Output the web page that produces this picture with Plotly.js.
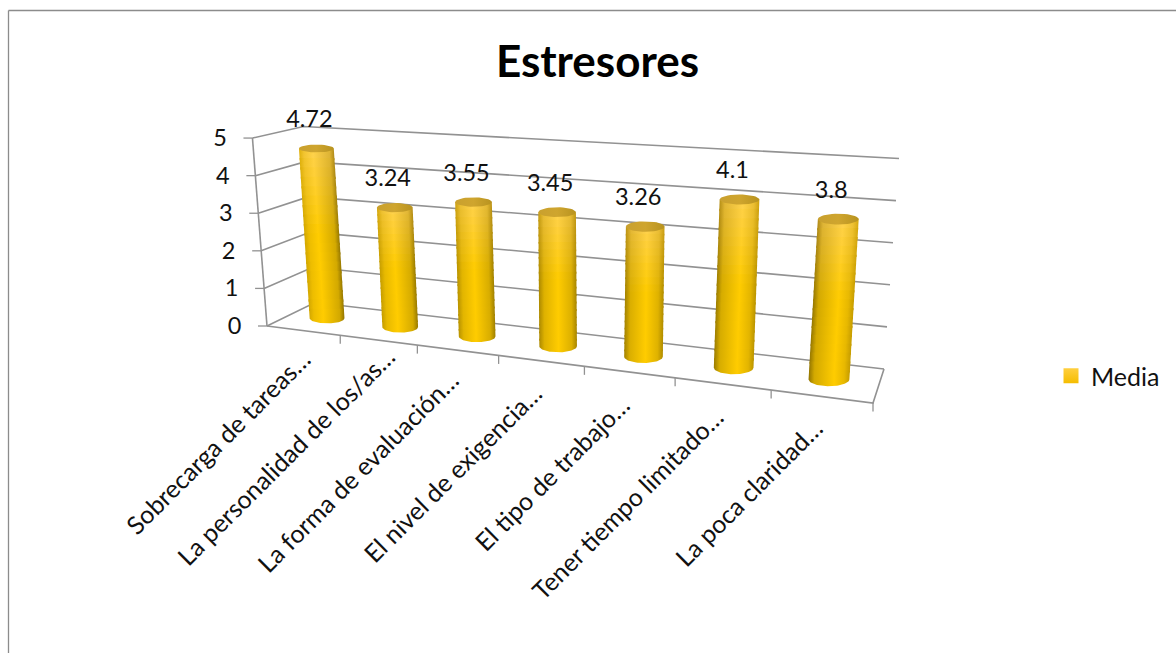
<!DOCTYPE html>
<html>
<head>
<meta charset="utf-8">
<script src="https://cdn.plot.ly/plotly-3.0.1.min.js"></script>
<style>html,body{margin:0;padding:0;background:#fff}#chart{width:1176px;height:653px}</style>
</head>
<body>
<div id="chart"></div>
<script>
// Data
const categories = [
  "Sobrecarga de tareas…",
  "La personalidad de los/as…",
  "La forma de evaluación…",
  "El nivel de exigencia…",
  "El tipo de trabajo…",
  "Tener tiempo limitado…",
  "La poca claridad…"
];
const media = [4.72, 3.24, 3.55, 3.45, 3.26, 4.1, 3.8];
const valueTicks = [0, 1, 2, 3, 4, 5];
const seriesName = "Media";
const chartTitle = "Estresores";

// Style
const FONT = "Lato, Carlito, sans-serif";
const GRID = "#929292";
const TEXT = "#111111";

// Floor of the 3D box on the canvas: front-left, front-right, back-right, back-left
const O = [267, 326], U = [873, 403], G = [884, 369], D = [315, 302.5];
const VANISH = [590, 4500];        // where the box's verticals converge
const WALL_SCALE = 37.7, BAR_SCALE = 36.8;

// Perspective mapping of the unit floor square
const det = (a, b) => a[0] * b[1] - b[0] * a[1];
const dx1 = [U[0] - G[0], U[1] - G[1]];
const dx2 = [D[0] - G[0], D[1] - G[1]];
const sum = [O[0] - U[0] + G[0] - D[0], O[1] - U[1] + G[1] - D[1]];
const den = det(dx1, dx2);
const pg = det(sum, dx2) / den, ph = det(dx1, sum) / den;
function floorPoint(u, d) {
  const w = pg * u + ph * d + 1;
  return [
    ((U[0] - O[0] + pg * U[0]) * u + (D[0] - O[0] + ph * D[0]) * d + O[0]) / w,
    ((U[1] - O[1] + pg * U[1]) * u + (D[1] - O[1] + ph * D[1]) * d + O[1]) / w,
    w
  ];
}
// u along categories, d into depth, v value
function project(u, d, v, scale) {
  const [bx, by, w] = floorPoint(u, d);
  const vx = bx - VANISH[0], vy = by - VANISH[1], n = Math.hypot(vx, vy);
  const len = v * scale / w;
  return [bx + vx / n * len, by + vy / n * len, w];
}

// Colour helpers
const hex = c => [1, 3, 5].map(i => parseInt(c.substr(i, 2), 16));
function mix(a, b, t) {
  const A = hex(a), B = hex(b);
  return "rgb(" + A.map((x, i) => Math.round(x + (B[i] - x) * t)).join(",") + ")";
}
const toHex = rgb => "#" + rgb.match(/\d+/g).map(n => (+n).toString(16).padStart(2, "0")).join("");

const traces = [];
function line(xs, ys, width, color) {
  traces.push({ type: "scatter", mode: "lines", x: xs, y: ys, showlegend: false, hoverinfo: "skip",
    line: { color: color || GRID, width: width || 1.6 } });
}

// Walls: horizontal gridlines running along the left wall and back wall
valueTicks.forEach(v => {
  const a = project(0, 0, v, WALL_SCALE), b = project(0, 1, v, WALL_SCALE), c = project(1, 1, v, WALL_SCALE);
  line([a[0], b[0], c[0]], [a[1], b[1], c[1]]);
  line([a[0] - 9, a[0]], [a[1], a[1]], 1.3);
});
// Left edge of the value axis, floor front and right edges
const axisTop = project(0, 0, 5, WALL_SCALE);
line([O[0], axisTop[0]], [O[1], axisTop[1]]);
line([O[0], U[0], G[0]], [O[1], U[1], G[1]]);
// Category ticks
categories.forEach((_, i) => {
  const p = floorPoint((i + 1) / categories.length, 0);
  line([p[0], p[0]], [p[1], p[1] + 8.5], 1.3);
});

// Cylinders
function ellipse(cx, cy, rx, ry, from, to) {
  const xs = [], ys = [];
  for (let k = 0; k <= 40; k++) {
    const a = from + (to - from) * k / 40;
    xs.push(cx + rx * Math.cos(a));
    ys.push(cy + ry * Math.sin(a));
  }
  return [xs, ys];
}
const squash = y => 0.2 + (y - 146) * 0.0006;
const SLICES = 18;

media.forEach((value, i) => {
  const u = (i + 0.5) / categories.length, t = i / (categories.length - 1);
  const base = project(u, 0.5, 0, BAR_SCALE);
  const top = project(u, 0.5, value, BAR_SCALE);
  const rx = 17.8 / base[2];
  const highlight = 0.4 + 0.22 * t;

  for (let s = 0; s < SLICES; s++) {
    const f0 = s / SLICES, f1 = Math.min(1, (s + 1.25) / SLICES);
    const y0 = top[1] + (base[1] - top[1]) * f0, x0 = top[0] + (base[0] - top[0]) * f0;
    const y1 = top[1] + (base[1] - top[1]) * f1, x1 = top[0] + (base[0] - top[0]) * f1;
    let xs, ys;
    if (s === SLICES - 1) {
      const arc = ellipse(x1, y1, rx, rx * squash(y1), 0, Math.PI);
      xs = [x0 - rx, x0 + rx].concat(arc[0]);
      ys = [y0, y0].concat(arc[1]);
    } else {
      xs = [x0 - rx, x0 + rx, x1 + rx, x1 - rx];
      ys = [y0, y0, y1, y1];
    }
    xs.push(xs[0]); ys.push(ys[0]);
    const f = (s + 0.5) / SLICES;
    const warm = Math.min(1, f / 0.5);
    const bright = toHex(mix("#ffd24e", "#ffcc00", warm));
    const edge = toHex(mix("#c79b22", "#9a7c00", warm));
    const leftEdge = mix(toHex(mix(edge, "#e8b800", 0.7 * (1 - t))), "#7f6600", 0.35 * t);
    const rightEdge = mix(toHex(mix(edge, "#e0b000", 0.6 * t)), "#7f6600", 0.35 * (1 - t));
    traces.push({
      type: "scatter", mode: "lines", x: xs, y: ys, fill: "toself", showlegend: false, hoverinfo: "skip",
      line: { width: 0 },
      fillgradient: {
        type: "horizontal",
        colorscale: [
          [0, leftEdge],
          [0.14, mix(toHex(leftEdge), bright, 0.6)],
          [highlight, bright],
          [0.86, mix(toHex(rightEdge), bright, 0.6)],
          [1, rightEdge]
        ]
      }
    });
  }
  const capRy = rx * squash(top[1]);
  const cap = ellipse(top[0], top[1], rx, capRy + 0.4, 0, 2 * Math.PI);
  traces.push({
    type: "scatter", mode: "lines", x: cap[0], y: cap[1], fill: "toself", showlegend: false, hoverinfo: "skip",
    line: { width: 0 },
    fillgradient: { type: "horizontal", colorscale: [[0, "#c9a02e"], [0.5, "#cfa52e"], [1, "#b8931f"]] }
  });
});

// Value labels above each cylinder
const tops = media.map((value, i) => project((i + 0.5) / categories.length, 0.5, value, BAR_SCALE));
traces.push({
  type: "scatter", mode: "text", showlegend: false, hoverinfo: "skip",
  x: tops.map(p => p[0] - 7), y: tops.map(p => p[1] - 27),
  text: media.map(String), textposition: "middle center",
  textfont: { family: FONT, size: 23.5, color: TEXT }, cliponaxis: false
});

// Value axis numbers follow the slanted wall edge
const edge = valueTicks.map(v => project(0, 0, v, WALL_SCALE));
traces.push({
  type: "scatter", mode: "text", showlegend: false, hoverinfo: "skip",
  x: edge.map(p => p[0] - 32.5), y: edge.map(p => p[1] + 2),
  text: valueTicks.map(String), textposition: "middle center",
  textfont: { family: FONT, size: 23.5, color: TEXT }
});

// Legend entry
traces.push({
  type: "scatter", mode: "markers", name: seriesName, x: [-50], y: [-50], hoverinfo: "skip",
  marker: { symbol: "square", size: 15, color: "#ffcf3f", gradient: { type: "vertical", color: "#f5bd00" } }
});

// Category labels, top-right corner of each rotated label
const labelEnds = [[318, 341], [403, 338], [467, 362], [550, 375], [638, 387], [732, 398], [831, 410]];
const annotations = categories.map((c, i) => ({
  text: c, x: labelEnds[i][0], y: labelEnds[i][1], xref: "x", yref: "y",
  xanchor: "right", yanchor: "top", showarrow: false, textangle: -45,
  font: { family: FONT, size: 25, color: TEXT }
}));

const layout = {
  width: 1176, height: 653,
  margin: { l: 0, r: 0, t: 0, b: 0 },
  paper_bgcolor: "#ffffff", plot_bgcolor: "rgba(0,0,0,0)",
  title: { text: chartTitle, x: 597.5 / 1176, y: 1 - 62 / 653, xanchor: "center", yanchor: "middle",
    xref: "paper", yref: "paper", font: { family: FONT, size: 44, color: "#000000", weight: 700 } },
  xaxis: { range: [0, 1176], visible: false, fixedrange: true },
  yaxis: { range: [653, 0], visible: false, fixedrange: true },
  showlegend: true,
  legend: { x: 1051 / 1176, y: 1 - 376 / 653, xanchor: "left", yanchor: "middle", bgcolor: "rgba(0,0,0,0)",
    font: { family: FONT, size: 25, color: TEXT } },
  shapes: [
    { type: "line", xref: "paper", yref: "paper", x0: 8.5 / 1176, x1: 1, y0: 1 - 10.5 / 653, y1: 1 - 10.5 / 653, line: { color: "#8c8c8c", width: 1.3 } },
    { type: "line", xref: "paper", yref: "paper", x0: 8.5 / 1176, x1: 8.5 / 1176, y0: 0, y1: 1 - 10.5 / 653, line: { color: "#8c8c8c", width: 1.3 } }
  ],
  annotations: annotations
};

Plotly.newPlot("chart", traces, layout, { displayModeBar: false, staticPlot: true });
</script>
</body>
</html>
